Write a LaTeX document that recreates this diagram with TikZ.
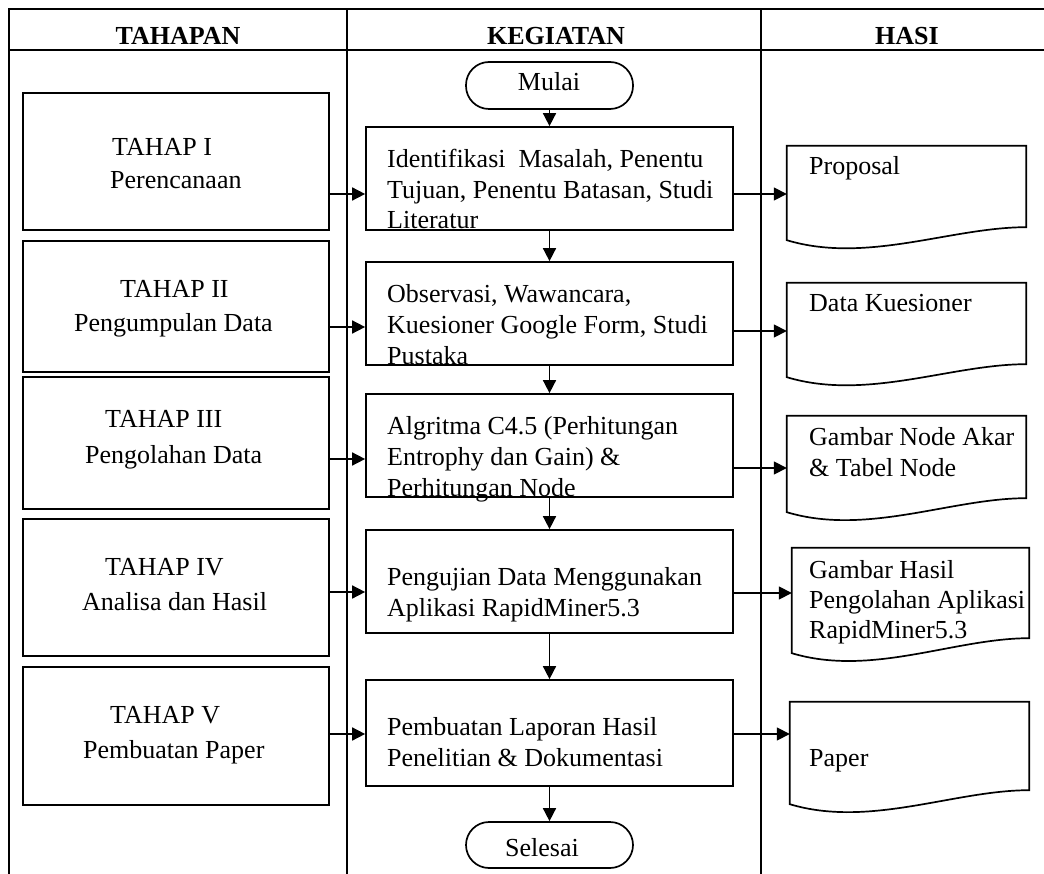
\documentclass[tikz,border=0pt]{standalone}
\usepackage{fontspec}
\setmainfont{Liberation Serif}
\usetikzlibrary{arrows.meta,calc}
\newcommand\drawdoc[2]{%
  \draw[line width=1.7pt,line join=miter] (#1.south west) -- (#1.north west) -- (#1.north east) -- ([yshift=#2]#1.south east)
    .. controls +(-75pt,0pt) and +(80pt,-24pt) .. (#1.south west) -- cycle;}
\begin{document}
\begin{tikzpicture}[x=1pt,y=-1pt,
  tbl/.style={line width=2.2pt},
  lbox/.style={draw,line width=1.7pt,inner sep=0pt,minimum width=306pt},
  kbox/.style={draw,line width=1.7pt,inner sep=0pt,minimum width=367pt},
  term/.style={draw,line width=1.7pt,inner sep=0pt,minimum width=167pt,rounded corners=23pt},
  docarea/.style={inner sep=0pt},
  arr/.style={line width=1.6pt,-{Triangle[length=13pt,width=13pt]}},
  txt/.style={inner sep=0pt,anchor=base west,font=\fontsize{26}{31}\selectfont},
  ctxt/.style={inner sep=0pt,anchor=base,font=\fontsize{26}{31}\selectfont},
  head/.style={inner sep=0pt,anchor=base,font=\fontsize{26}{31}\selectfont\bfseries}]
\useasboundingbox (0,0) rectangle (1044,874);
% table
\draw[tbl] (9,874) -- (9,9) -- (1044,9);
\draw[tbl] (9,50) -- (1044,50);
\draw[tbl] (347,9) -- (347,874);
\draw[tbl] (761,9) -- (761,874);
\node[head] (h1) at (178,45) {TAHAPAN};
\node[head] (h2) at (556,45) {KEGIATAN};
\node[head] (h3) at (907,45) {HASI};
% left boxes
\node[lbox,minimum height=137pt] (bI) at (176,161.5) {};
\node[lbox,minimum height=131pt] (bII) at (176,306.5) {};
\node[lbox,minimum height=132pt] (bIII) at (176,443) {};
\node[lbox,minimum height=137pt] (bIV) at (176,587.5) {};
\node[lbox,minimum height=138pt] (bV) at (176,736) {};
\node[txt] (tI1) at (112,156) {TAHAP I};
\node[txt] (tI2) at (110,189) {Perencanaan};
\node[txt] (tII1) at (120,298) {TAHAP II};
\node[txt] (tII2) at (74,332) {Pengumpulan Data};
\node[txt] (tIII1) at (105,428) {TAHAP III};
\node[txt] (tIII2) at (85,463) {Pengolahan Data};
\node[txt] (tIV1) at (105,575) {TAHAP IV};
\node[txt] (tIV2) at (82,610) {Analisa dan Hasil};
\node[txt] (tV1) at (110,723) {TAHAP V};
\node[txt] (tV2) at (83,758) {Pembuatan Paper};
% kegiatan
\node[term,minimum height=47pt] (mulai) at (549.5,85.5) {};
\node[ctxt] (mulait) at (549,91) {Mulai};
\node[kbox,minimum height=103pt] (k1) at (549.5,178.5) {};
\node[kbox,minimum height=103pt] (k2) at (549.5,313.5) {};
\node[kbox,minimum height=103pt] (k3) at (549.5,445.5) {};
\node[kbox,minimum height=103pt] (k4) at (549.5,581.5) {};
\node[kbox,minimum height=106pt] (k5) at (549.5,733) {};
\node[term,minimum height=46pt] (selesai) at (549.5,845) {};
\node[ctxt] (selesait) at (542,856) {Selesai};
\node[txt] (k1a) at (387,168) {Identifikasi\ \ Masalah, Penentu};
\node[txt] (k1b) at (387,199) {Tujuan, Penentu Batasan, Studi};
\node[txt] (k1c) at (387,229) {Literatur};
\node[txt] (k2a) at (387,303) {Observasi, Wawancara,};
\node[txt] (k2b) at (387,334) {Kuesioner Google Form, Studi};
\node[txt] (k2c) at (387,365) {Pustaka};
\node[txt] (k3a) at (387,434) {Algritma C4.5 (Perhitungan};
\node[txt] (k3b) at (387,465) {Entrophy dan Gain) \&};
\node[txt] (k3c) at (387,496) {Perhitungan Node};
\node[txt] (k4a) at (387,585) {Pengujian Data Menggunakan};
\node[txt] (k4b) at (387,616) {Aplikasi RapidMiner5.3};
\node[txt] (k5a) at (387,735) {Pembuatan Laporan Hasil};
\node[txt] (k5b) at (387,766) {Penelitian \& Dokumentasi};
% hasil documents
\node[docarea,minimum width=239pt,minimum height=94pt] (dP) at (906.5,193) {};
\node[docarea,minimum width=239pt,minimum height=94pt] (dDK) at (906.5,330) {};
\node[docarea,minimum width=239pt,minimum height=96pt] (dGN) at (906.5,464) {};
\node[docarea,minimum width=237pt,minimum height=105pt] (dGH) at (910.5,600.5) {};
\node[docarea,minimum width=239pt,minimum height=102pt] (dPa) at (909.5,753) {};
\drawdoc{dP}{13pt}
\drawdoc{dDK}{13pt}
\drawdoc{dGN}{14pt}
\drawdoc{dGH}{15pt}
\drawdoc{dPa}{14pt}
\node[txt] (dPt) at (809,175) {Proposal};
\node[txt] (dDKt) at (809,312) {Data Kuesioner};
\node[txt] (dGNa) at (809,445) {Gambar Node Akar};
\node[txt] (dGNb) at (809,476) {\& Tabel Node};
\node[txt] (dGHa) at (809,578) {Gambar Hasil};
\node[txt] (dGHb) at (809,608) {Pengolahan Aplikasi};
\node[txt] (dGHc) at (809,638) {RapidMiner5.3};
\node[txt] (dPat) at (809,766) {Paper};
% vertical arrows
\draw[arr] (mulai.south) -- (k1.north);
\draw[arr] (k1.south) -- (k2.north);
\draw[arr] (k2.south) -- (k3.north);
\draw[arr] (k3.south) -- (k4.north);
\draw[arr] (k4.south) -- (k5.north);
\draw[arr] (k5.south) -- (selesai.north);
% left arrows
\coordinate (y1) at (0,194);
\coordinate (y2) at (0,327);
\coordinate (y3) at (0,459);
\coordinate (y4) at (0,592);
\coordinate (y5) at (0,734);
\draw[arr] (bI.east |- y1) -- (k1.west |- y1);
\draw[arr] (bII.east |- y2) -- (k2.west |- y2);
\draw[arr] (bIII.east |- y3) -- (k3.west |- y3);
\draw[arr] (bIV.east |- y4) -- (k4.west |- y4);
\draw[arr] (bV.east |- y5) -- (k5.west |- y5);
% right arrows
\coordinate (z1) at (0,194);
\coordinate (z2) at (0,331);
\coordinate (z3) at (0,468);
\coordinate (z4) at (0,593);
\coordinate (z5) at (0,734);
\draw[arr] (k1.east |- z1) -- (dP.west |- z1);
\draw[arr] (k2.east |- z2) -- (dDK.west |- z2);
\draw[arr] (k3.east |- z3) -- (dGN.west |- z3);
\draw[arr] (k4.east |- z4) -- (dGH.west |- z4);
\draw[arr] (k5.east |- z5) -- (dPa.west |- z5);
\end{tikzpicture}
\end{document}
